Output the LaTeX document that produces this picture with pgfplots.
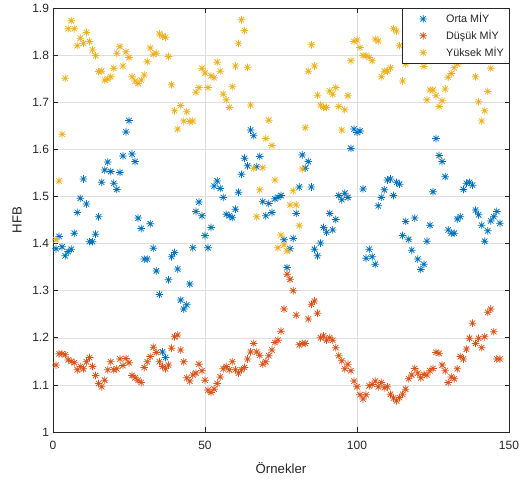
\documentclass[border=0pt]{standalone}
\usepackage{fontspec}
\setmainfont{Liberation Sans}
\usepackage{pgfplots}
\usepackage{pgfplotstable}
\pgfplotsset{compat=1.18}
\definecolor{mblue}{rgb}{0,0.447,0.741}
\definecolor{morange}{rgb}{0.850,0.325,0.098}
\definecolor{myellow}{rgb}{0.929,0.694,0.125}
\definecolor{axgray}{rgb}{0.15,0.15,0.15}
\pgfdeclareplotmark{ast8}{%
  \pgfpathmoveto{\pgfqpoint{-\pgfplotmarksize}{0pt}}%
  \pgfpathlineto{\pgfqpoint{\pgfplotmarksize}{0pt}}%
  \pgfpathmoveto{\pgfqpoint{0pt}{-\pgfplotmarksize}}%
  \pgfpathlineto{\pgfqpoint{0pt}{\pgfplotmarksize}}%
  \pgfpathmoveto{\pgfqpoint{-0.7071\pgfplotmarksize}{-0.7071\pgfplotmarksize}}%
  \pgfpathlineto{\pgfqpoint{0.7071\pgfplotmarksize}{0.7071\pgfplotmarksize}}%
  \pgfpathmoveto{\pgfqpoint{-0.7071\pgfplotmarksize}{0.7071\pgfplotmarksize}}%
  \pgfpathlineto{\pgfqpoint{0.7071\pgfplotmarksize}{-0.7071\pgfplotmarksize}}%
  \pgfusepathqstroke}

\pgfplotstableread{
x y
1 1.389
2 1.415
3 1.393
4 1.374
5 1.383
6 1.388
7 1.422
8 1.466
9 1.496
10 1.537
11 1.484
12 1.404
13 1.404
14 1.420
15 1.457
16 1.530
17 1.556
18 1.573
19 1.553
20 1.528
21 1.515
22 1.551
23 1.586
24 1.637
25 1.661
26 1.590
27 1.574
28 1.454
29 1.432
30 1.367
31 1.367
32 1.442
33 1.390
34 1.342
35 1.292
36 1.170
37 1.158
38 1.323
39 1.372
40 1.381
41 1.346
42 1.280
43 1.261
44 1.270
45 1.314
46 1.391
47 1.468
48 1.488
49 1.459
50 1.417
51 1.391
52 1.434
53 1.522
54 1.533
55 1.517
56 1.498
57 1.462
58 1.459
59 1.455
60 1.473
61 1.509
62 1.547
63 1.581
64 1.565
65 1.641
66 1.629
67 1.563
68 1.585
69 1.489
70 1.459
71 1.485
72 1.466
73 1.495
74 1.498
75 1.502
76 1.408
77 1.349
78 1.389
79 1.411
80 1.464
81 1.520
82 1.588
83 1.560
84 1.574
85 1.520
86 1.388
87 1.374
88 1.401
89 1.434
90 1.424
91 1.464
92 1.429
93 1.451
94 1.502
95 1.493
96 1.507
97 1.498
98 1.602
99 1.643
100 1.636
101 1.639
102 1.516
103 1.369
104 1.388
105 1.372
106 1.356
107 1.480
108 1.498
109 1.514
110 1.535
111 1.537
112 1.502
113 1.530
114 1.526
115 1.417
116 1.447
117 1.409
118 1.386
119 1.454
120 1.367
121 1.345
122 1.356
123 1.405
124 1.439
125 1.510
126 1.623
127 1.587
128 1.574
129 1.542
130 1.429
131 1.422
132 1.422
133 1.452
134 1.457
135 1.515
136 1.528
137 1.530
138 1.524
139 1.471
140 1.461
141 1.439
142 1.405
143 1.427
144 1.448
145 1.457
146 1.468
147 1.443
}\orta

\pgfplotstableread{
x y
1 1.142
2 1.166
3 1.166
4 1.164
5 1.153
6 1.150
7 1.147
8 1.132
9 1.139
10 1.134
11 1.149
12 1.158
13 1.139
14 1.120
15 1.103
16 1.096
17 1.110
18 1.132
19 1.149
20 1.132
21 1.134
22 1.155
23 1.141
24 1.156
25 1.147
26 1.120
27 1.115
28 1.110
29 1.105
30 1.137
31 1.149
32 1.160
33 1.180
34 1.169
35 1.149
36 1.139
37 1.134
38 1.142
39 1.178
40 1.202
41 1.206
42 1.174
43 1.149
44 1.115
45 1.108
46 1.121
47 1.125
48 1.144
49 1.130
50 1.110
51 1.089
52 1.084
53 1.091
54 1.103
55 1.117
56 1.134
57 1.139
58 1.132
59 1.149
60 1.132
61 1.125
62 1.132
63 1.137
64 1.155
65 1.170
66 1.188
67 1.170
68 1.163
69 1.144
70 1.149
71 1.162
72 1.174
73 1.190
74 1.195
75 1.214
76 1.261
77 1.335
78 1.324
79 1.300
80 1.248
81 1.185
82 1.188
83 1.188
84 1.240
85 1.271
86 1.278
87 1.252
88 1.200
89 1.204
90 1.195
91 1.200
92 1.195
93 1.179
94 1.162
95 1.151
96 1.134
97 1.144
98 1.130
99 1.108
100 1.096
101 1.079
102 1.070
103 1.079
104 1.098
105 1.101
106 1.108
107 1.096
108 1.105
109 1.094
110 1.096
111 1.080
112 1.072
113 1.066
114 1.073
115 1.080
116 1.091
117 1.113
118 1.121
119 1.135
120 1.125
121 1.115
122 1.122
123 1.121
124 1.130
125 1.135
126 1.169
127 1.167
128 1.142
129 1.130
130 1.105
131 1.117
132 1.113
133 1.134
134 1.160
135 1.155
136 1.176
137 1.199
138 1.231
139 1.188
140 1.199
141 1.179
142 1.202
143 1.254
144 1.261
145 1.213
146 1.155
147 1.155
}\dusuk

\pgfplotstableread{
x y
1 1.408
2 1.533
3 1.632
4 1.751
5 1.856
6 1.873
7 1.856
8 1.820
9 1.836
10 1.825
11 1.848
12 1.829
13 1.811
14 1.799
15 1.765
16 1.766
17 1.747
18 1.749
19 1.754
20 1.772
21 1.804
22 1.818
23 1.777
24 1.807
25 1.795
26 1.754
27 1.745
28 1.740
29 1.747
30 1.758
31 1.786
32 1.815
33 1.802
34 1.804
35 1.845
36 1.840
37 1.838
38 1.797
39 1.737
40 1.682
41 1.643
42 1.693
43 1.660
44 1.680
45 1.659
46 1.660
47 1.721
48 1.731
49 1.772
50 1.762
51 1.731
52 1.756
53 1.752
54 1.785
55 1.766
56 1.717
57 1.705
58 1.689
59 1.733
60 1.777
61 1.825
62 1.875
63 1.852
64 1.774
65 1.694
66 1.560
67 1.457
68 1.514
69 1.561
70 1.623
71 1.662
72 1.608
73 1.535
74 1.391
75 1.418
76 1.397
77 1.384
78 1.482
79 1.512
80 1.482
81 1.438
82 1.558
83 1.646
84 1.766
85 1.822
86 1.777
87 1.715
88 1.694
89 1.689
90 1.689
91 1.724
92 1.717
93 1.731
94 1.691
95 1.641
96 1.684
97 1.714
98 1.788
99 1.829
100 1.832
101 1.816
102 1.799
103 1.799
104 1.795
105 1.788
106 1.834
107 1.830
108 1.754
109 1.766
110 1.766
111 1.773
112 1.856
113 1.851
114 1.820
115 1.745
116 1.781
117 1.830
118 1.850
119 1.860
120 1.840
121 1.820
122 1.776
123 1.705
124 1.726
125 1.726
126 1.714
127 1.691
128 1.703
129 1.728
130 1.753
131 1.761
132 1.773
133 1.781
134 1.820
135 1.850
136 1.860
137 1.830
138 1.800
139 1.754
140 1.701
141 1.660
142 1.682
143 1.723
144 1.772
145 1.810
146 1.840
147 1.850
}\yuksek

\begin{document}
\begin{tikzpicture}
\path[use as bounding box] (0,0) rectangle (523pt,480pt);
\begin{axis}[
  at={(53pt,48pt)}, anchor=south west,
  scale only axis, width=456pt, height=424pt,
  xmin=0, xmax=150, ymin=1, ymax=1.9,
  xtick={0,50,100,150},
  xticklabels={0,50,100,150},
  ytick={1,1.1,1.2,1.3,1.4,1.5,1.6,1.7,1.8,1.9},
  yticklabels={1,1.1,1.2,1.3,1.4,1.5,1.6,1.7,1.8,1.9},
  tick align=inside, major tick length=4.5pt,
  grid=major, major grid style={color=black!13, line width=0.5pt},
  axis line style={axgray, line width=0.6pt},
  tick style={axgray, line width=0.6pt},
  ticklabel style={font=\fontsize{12}{14}\selectfont, text=axgray},
  xticklabel style={yshift=-5.5pt},
  yticklabel style={xshift=-0.5pt},
  /pgf/number format/assume math mode=true,
  xlabel={Örnekler}, ylabel={HFB},
  label style={font=\fontsize{13.2}{15}\selectfont, text=axgray},
  xlabel style={at={(axis description cs:0.5,-0.085)}, anchor=center},
  ylabel style={at={(axis description cs:-0.079,0.5)}, anchor=center},
  legend cell align=left,
  legend style={at={(1,1)}, anchor=north east, draw=axgray, fill=white,
    line width=0.5pt, font=\fontsize{10.8}{12}\selectfont, text=axgray,
    inner xsep=3pt, inner ysep=3pt, row sep=1.5pt,
    nodes={inner sep=2pt, text depth=0.2em}},
  legend image code/.code={%
    \path[draw=none,fill=none] (0pt,-3pt) rectangle (39pt,3pt);
    \draw[#1] plot coordinates {(18pt,0pt)};},
]
\addplot[only marks, mark=ast8, mark size=3.8pt, color=mblue,
  mark options={line width=0.75pt}] table[x=x,y=y] {\orta};
\addlegendentry{Orta MİY}
\addplot[only marks, mark=ast8, mark size=3.8pt, color=morange,
  mark options={line width=0.75pt}] table[x=x,y=y] {\dusuk};
\addlegendentry{Düşük MİY}
\addplot[only marks, mark=ast8, mark size=3.8pt, color=myellow,
  mark options={line width=0.75pt}] table[x=x,y=y] {\yuksek};
\addlegendentry{Yüksek MİY}
\end{axis}
\end{tikzpicture}
\end{document}
